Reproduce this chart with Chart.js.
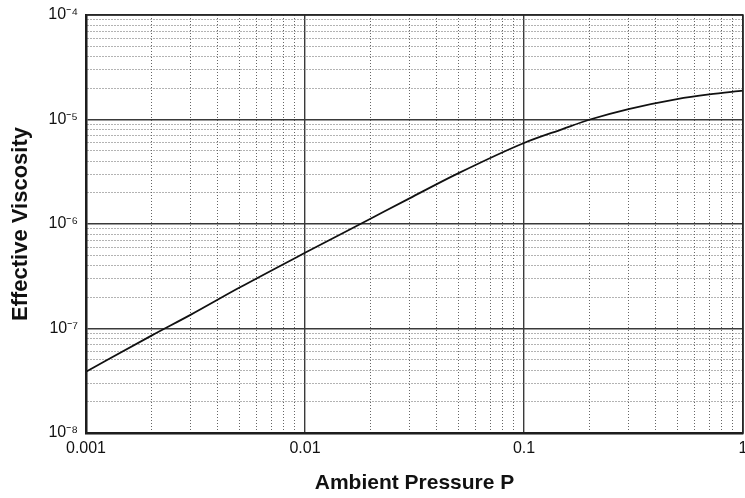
<!DOCTYPE html>
<html lang="en">
<head>
    <meta charset="UTF-8">
    <title>Effective Viscosity vs Ambient Pressure</title>
    <script src="https://cdn.jsdelivr.net/npm/chart.js"></script>
    <style>
        html, body { margin: 0; padding: 0; background: #fff; }
        #wrap { width: 745px; height: 498px; }
    </style>
</head>
<body>
    <div id="wrap"><canvas id="viscChart"></canvas></div>

    <script>
        // values
        const pressure = [0.001, 0.002, 0.003, 0.005, 0.01, 0.02, 0.03, 0.05, 0.1, 0.15, 0.2, 0.3, 0.5, 0.7, 1];
        const viscosity = [3.86e-8, 8.6e-8, 1.35e-7, 2.45e-7, 5.3e-7, 1.13e-6, 1.76e-6, 3.05e-6, 5.96e-6, 8.1e-6, 1.0e-5, 1.26e-5, 1.57e-5, 1.74e-5, 1.89e-5];

        const xDecades = [-3, -2, -1, 0];
        const yDecades = [-8, -7, -6, -5, -4];
        const xTickLabels = ["0.001", "0.01", "0.1", "1"];
        const yTickLabels = ["10\u207B\u2078", "10\u207B\u2077", "10\u207B\u2076", "10\u207B\u2075", "10\u207B\u2074"];

        function decadeTicks(decades) {
            const ticks = [];
            for (let i = 0; i < decades.length - 1; i++) {
                for (let m = 1; m <= 9; m++) ticks.push({ value: m * Math.pow(10, decades[i]) });
            }
            ticks.push({ value: Math.pow(10, decades[decades.length - 1]) });
            return ticks;
        }

        function isMajor(v) {
            const l = Math.log10(v);
            return Math.abs(l - Math.round(l)) < 1e-6;
        }

        function labelFor(v, decades, labels) {
            if (!isMajor(v)) return "";
            const idx = decades.indexOf(Math.round(Math.log10(v)));
            return idx >= 0 ? labels[idx] : "";
        }

        const gridColor = ctx => (ctx.tick && isMajor(ctx.tick.value)) ? "#3a3a3a" : "#666";
        const gridWidth = ctx => (ctx.tick && isMajor(ctx.tick.value)) ? 1.4 : 1;
        const gridDash = ctx => (ctx.tick && !isMajor(ctx.tick.value)) ? [1, 2] : [];

        const fontFamily = "'Liberation Sans', Arial, Helvetica, sans-serif";

        new Chart(document.getElementById("viscChart"), {
            type: "scatter",
            data: {
                datasets: [{
                    label: "Effective Viscosity",
                    data: pressure.map((p, i) => ({ x: p, y: viscosity[i] })),
                    showLine: true,
                    borderColor: "#111",
                    borderWidth: 1.8,
                    pointRadius: 0,
                    cubicInterpolationMode: "monotone",
                    fill: false
                }]
            },
            options: {
                responsive: true,
                maintainAspectRatio: false,
                animation: false,
                layout: { padding: { top: 15, right: 2, left: 0, bottom: 0 } },
                plugins: {
                    legend: { display: false },
                    tooltip: { enabled: false }
                },
                scales: {
                    x: {
                        type: "logarithmic",
                        min: 0.001,
                        max: 1,
                        afterBuildTicks: scale => { scale.ticks = decadeTicks(xDecades); },
                        afterFit: scale => {
                            scale.height = 65;
                            scale.paddingRight = 0;
                            scale.paddingLeft = 0;
                        },
                        ticks: {
                            autoSkip: false,
                            maxRotation: 0,
                            padding: 6,
                            color: "#111",
                            font: { family: fontFamily, size: 16 },
                            callback: value => labelFor(value, xDecades, xTickLabels)
                        },
                        grid: { color: gridColor, lineWidth: gridWidth, drawTicks: false },
                        border: { display: true, color: "#111", width: 2.5, dash: gridDash },
                        title: {
                            display: true,
                            text: "Ambient Pressure P",
                            color: "#111",
                            font: { family: fontFamily, size: 21, weight: "bold" },
                            padding: { top: 6, bottom: 2 }
                        }
                    },
                    y: {
                        type: "logarithmic",
                        min: 1e-8,
                        max: 1e-4,
                        afterBuildTicks: scale => { scale.ticks = decadeTicks(yDecades); },
                        afterFit: scale => {
                            scale.width = 86;
                            scale.paddingTop = 0;
                            scale.paddingBottom = 0;
                        },
                        ticks: {
                            autoSkip: false,
                            padding: 8,
                            color: "#111",
                            font: { family: fontFamily, size: 16 },
                            callback: value => labelFor(value, yDecades, yTickLabels)
                        },
                        grid: { color: gridColor, lineWidth: gridWidth, drawTicks: false },
                        border: { display: true, color: "#111", width: 2.5, dash: gridDash },
                        title: {
                            display: true,
                            text: "Effective Viscosity",
                            color: "#111",
                            font: { family: fontFamily, size: 22, weight: "bold" },
                            padding: { top: 8, bottom: 2 }
                        }
                    }
                }
            },
            plugins: [{
                id: "frame",
                afterDraw(chart) {
                    const { ctx, chartArea: a } = chart;
                    ctx.save();
                    ctx.strokeStyle = "#222";
                    ctx.lineWidth = 1.5;
                    ctx.strokeRect(a.left, a.top, a.right - a.left, a.bottom - a.top);
                    ctx.restore();
                }
            }]
        });
    </script>
</body>
</html>
